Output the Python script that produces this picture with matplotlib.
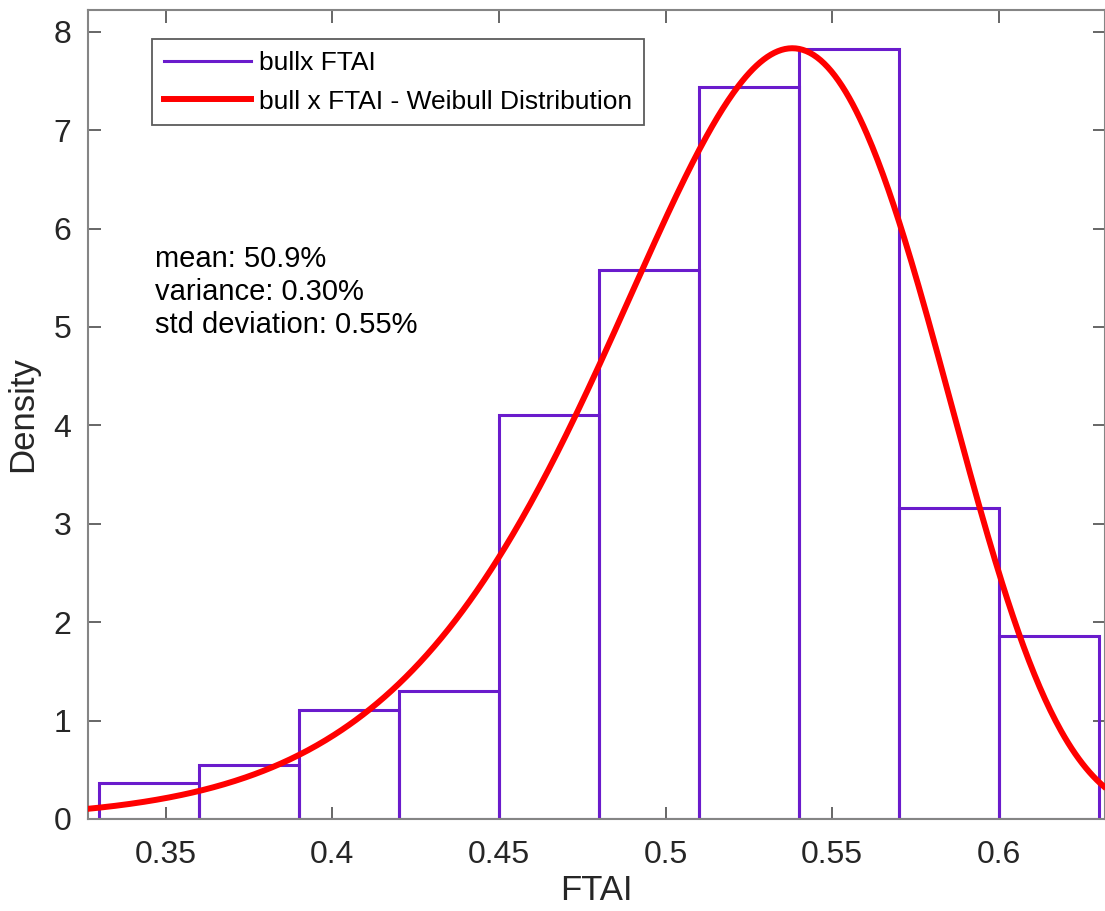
import numpy as np
import matplotlib.pyplot as plt
from matplotlib.lines import Line2D

plt.rcParams['font.family'] = ['Liberation Sans', 'DejaVu Sans']

# histogram bins (FTAI) and densities
bin_edges = [0.33, 0.36, 0.39, 0.42, 0.45, 0.48, 0.51, 0.54, 0.57, 0.60, 0.63]
densities = [0.37, 0.55, 1.11, 1.30, 4.10, 5.58, 7.44, 7.82, 3.16, 1.86]

# fitted Weibull parameters (scale, shape)
wbl_scale = 0.5423
wbl_shape = 11.5

x_ticks = [0.35, 0.4, 0.45, 0.5, 0.55, 0.6]
x_tick_labels = ['0.35', '0.4', '0.45', '0.5', '0.55', '0.6']
y_ticks = [0, 1, 2, 3, 4, 5, 6, 7, 8]

stats_lines = ['mean: 50.9%', 'variance: 0.30%', 'std deviation: 0.55%']

purple = '#6a1bcc'
red = '#ff0000'
spine_gray = '#858585'
text_col = '#262626'

fig = plt.figure(figsize=(11.05, 9.11), dpi=100)
ax = fig.add_axes([0.0796, 0.101, 0.92, 0.888])

lefts = bin_edges[:-1]
widths = np.diff(bin_edges)
ax.bar(lefts, densities, width=widths, align='edge', fill=False,
       edgecolor=purple, linewidth=2.2, zorder=2)

xs = np.linspace(0.32, 0.64, 600)
z = xs / wbl_scale
pdf = (wbl_shape / wbl_scale) * z ** (wbl_shape - 1) * np.exp(-z ** wbl_shape)
ax.plot(xs, pdf, color=red, linewidth=4.3, zorder=3, solid_capstyle='butt')

ax.set_xlim(0.3267, 0.6317)
ax.set_ylim(0, 8.22)
ax.set_xticks(x_ticks)
ax.set_xticklabels(x_tick_labels)
ax.set_yticks(y_ticks)

ax.tick_params(direction='in', length=9, width=1.2, color='#4d4d4d',
               labelsize=23, labelcolor=text_col, top=True, right=True)
ax.tick_params(axis='x', pad=15)
ax.tick_params(axis='y', pad=12)
for sp in ax.spines.values():
    sp.set_color(spine_gray)
    sp.set_linewidth(1.5)

ax.set_xlabel('FTAI', fontsize=25, color=text_col, labelpad=3)
ax.set_ylabel('Density', fontsize=25, color=text_col, labelpad=10)

handles = [Line2D([0], [0], color=purple, linewidth=2.2),
           Line2D([0], [0], color=red, linewidth=4.3)]
leg = ax.legend(handles, ['bullx FTAI', 'bull x FTAI - Weibull Distribution'],
                loc='upper left', bbox_to_anchor=(0.063, 0.964), fontsize=19,
                frameon=True, fancybox=False, edgecolor='#333333',
                handlelength=3.3, handletextpad=0.3, borderpad=0.45,
                labelspacing=0.55, borderaxespad=0)
leg.get_frame().set_linewidth(1.3)

ax.text(0.066, 0.71, '\n'.join(stats_lines), transform=ax.transAxes,
        fontsize=21, color='black', va='top', ha='left', linespacing=1.23)

fig.savefig('out.png', dpi=100)
